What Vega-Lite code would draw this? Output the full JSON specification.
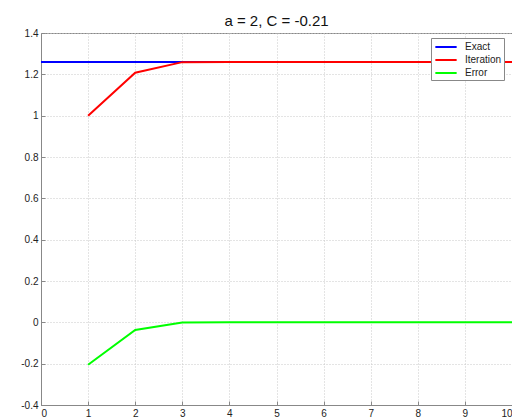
{
  "$schema": "https://vega.github.io/schema/vega-lite/v6.json",
  "autosize": {"type": "none"},
  "padding": {"left": 41, "top": 33, "right": 0, "bottom": 13},
  "width": 471,
  "height": 372,
  "background": "white",
  "title": {"text": "a = 2, C = -0.21", "fontSize": 15, "font": "Liberation Sans", "fontWeight": "normal", "color": "#111", "anchor": "middle", "baseline": "alphabetic", "offset": 9, "dy": 22},
  "config": {
    "view": {"stroke": "#888", "strokeWidth": 1},
    "axis": {"labelFont": "Liberation Sans", "labelFontSize": 10, "labelColor": "#222", "domainColor": "#888", "tickColor": "#888", "gridColor": "#c8c8c8", "gridDash": [1, 2], "title": null}
  },
  "data": {"values": [
    {"x": 0, "y": 1.26, "s": "Exact"}, {"x": 1, "y": 1.26, "s": "Exact"}, {"x": 2, "y": 1.26, "s": "Exact"}, {"x": 3, "y": 1.26, "s": "Exact"}, {"x": 4, "y": 1.26, "s": "Exact"}, {"x": 5, "y": 1.26, "s": "Exact"}, {"x": 6, "y": 1.26, "s": "Exact"}, {"x": 7, "y": 1.26, "s": "Exact"}, {"x": 8, "y": 1.26, "s": "Exact"}, {"x": 9, "y": 1.26, "s": "Exact"}, {"x": 10, "y": 1.26, "s": "Exact"},
    {"x": 1, "y": 1.0, "s": "Iteration"}, {"x": 2, "y": 1.208, "s": "Iteration"}, {"x": 3, "y": 1.259, "s": "Iteration"}, {"x": 4, "y": 1.26, "s": "Iteration"}, {"x": 5, "y": 1.26, "s": "Iteration"}, {"x": 6, "y": 1.26, "s": "Iteration"}, {"x": 7, "y": 1.26, "s": "Iteration"}, {"x": 8, "y": 1.26, "s": "Iteration"}, {"x": 9, "y": 1.26, "s": "Iteration"}, {"x": 10, "y": 1.26, "s": "Iteration"},
    {"x": 1, "y": -0.205, "s": "Error"}, {"x": 2, "y": -0.037, "s": "Error"}, {"x": 3, "y": -0.001, "s": "Error"}, {"x": 4, "y": 0, "s": "Error"}, {"x": 5, "y": 0, "s": "Error"}, {"x": 6, "y": 0, "s": "Error"}, {"x": 7, "y": 0, "s": "Error"}, {"x": 8, "y": 0, "s": "Error"}, {"x": 9, "y": 0, "s": "Error"}, {"x": 10, "y": 0, "s": "Error"}
  ]},
  "mark": {"type": "line", "strokeWidth": 2, "clip": true},
  "encoding": {
    "x": {"field": "x", "type": "quantitative", "scale": {"domain": [0, 10], "nice": false}, "axis": {"values": [0,1,2,3,4,5,6,7,8,9,10], "labelExpr": "'' + datum.value", "tickSize": -4, "labelPadding": 7, "grid": true}},
    "y": {"field": "y", "type": "quantitative", "scale": {"domain": [-0.4, 1.4], "nice": false, "zero": false}, "axis": {"values": [-0.4,-0.2,0,0.2,0.4,0.6,0.8,1,1.2,1.4], "labelExpr": "'' + datum.value", "tickSize": -4, "labelPadding": 7, "grid": true}},
    "color": {"field": "s", "type": "nominal", "scale": {"domain": ["Exact", "Iteration", "Error"], "range": ["#0000ff", "#ff0000", "#00ff00"]},
      "legend": {"title": null, "orient": "none", "legendX": 390, "legendY": 5, "symbolType": "M-1.8,0L1.8,0", "symbolStrokeWidth": 2, "symbolSize": 140, "labelFont": "Liberation Sans", "labelFontSize": 10, "labelColor": "#222", "strokeColor": "#888", "fillColor": "white", "padding": 2, "rowPadding": 1, "labelOffset": 12, "symbolOffset": 6}}
  }
}
